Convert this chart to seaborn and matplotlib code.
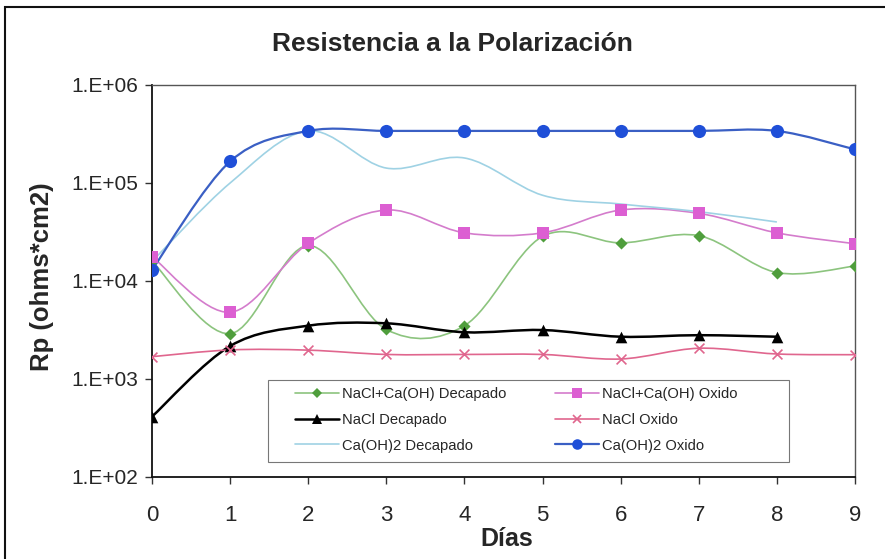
import numpy as np
import matplotlib
matplotlib.use("Agg")
import matplotlib.pyplot as plt
import seaborn as sns
from matplotlib.path import Path
from matplotlib.patches import PathPatch, Rectangle
from matplotlib.lines import Line2D

# values (Rp in ohms*cm2, per day)
dias = [0, 1, 2, 3, 4, 5, 6, 7, 8, 9]
nacl_caoh_dec = [1.6e4, 2.9e3, 2.3e4, 3.2e3, 3.5e3, 2.85e4, 2.45e4, 2.9e4, 1.22e4, 1.42e4]
nacl_caoh_ox = [1.77e4, 4.8e3, 2.42e4, 5.3e4, 3.1e4, 3.1e4, 5.3e4, 4.9e4, 3.1e4, 2.4e4]
nacl_dec = [413, 2.17e3, 3.5e3, 3.7e3, 3.0e3, 3.16e3, 2.7e3, 2.8e3, 2.7e3]
nacl_ox = [1.69e3, 1.98e3, 1.97e3, 1.78e3, 1.78e3, 1.78e3, 1.6e3, 2.06e3, 1.8e3, 1.77e3]
caoh_dec = [1.58e4, 1.0e5, 3.4e5, 1.42e5, 1.8e5, 7.5e4, 6.1e4, 5.1e4, 4.0e4]
caoh_ox = [1.3e4, 1.66e5, 3.4e5, 3.4e5, 3.4e5, 3.4e5, 3.4e5, 3.4e5, 3.4e5, 2.2e5]

sns.set_style("white")
plt.rcParams["font.family"] = ["Liberation Sans", "DejaVu Sans"]


def smooth_path(xs, ys):
    """Excel-style smoothed line: Catmull-Rom bezier in (x, log y) space."""
    p = np.column_stack([np.asarray(xs, float), np.log10(ys)])
    n = len(p)
    verts = [p[0]]
    codes = [Path.MOVETO]
    for i in range(n - 1):
        p0 = p[max(i - 1, 0)]
        p3 = p[min(i + 2, n - 1)]
        c1 = p[i] + (p[i + 1] - p0) / 6.0
        c2 = p[i + 1] - (p3 - p[i]) / 6.0
        verts += [c1, c2, p[i + 1]]
        codes += [Path.CURVE4] * 3
    verts = np.array(verts)
    verts[:, 1] = 10 ** verts[:, 1]
    return Path(verts, codes)


series = [
    ("NaCl+Ca(OH) Decapado", nacl_caoh_dec, "#8cc47e", "#4f9e3c", "D", 38, 1.2),
    ("NaCl+Ca(OH) Oxido", nacl_caoh_ox, "#d47ccc", "#dc5fd2", "s", 80, 1.2),
    ("NaCl Decapado", nacl_dec, "#000000", "#000000", "^", 70, 1.8),
    ("NaCl Oxido", nacl_ox, "#e0668e", "#e0668e", "x", 50, 1.2),
    ("Ca(OH)2 Decapado", caoh_dec, "#9fd2e4", None, None, 0, 1.2),
    ("Ca(OH)2 Oxido", caoh_ox, "#3a5fc4", "#1f4fd8", "o", 90, 1.6),
]

fig = plt.figure(figsize=(8.85, 5.59), dpi=100)
ax = fig.add_axes([152 / 885, 1 - 477 / 559, 703 / 885, 392 / 559])
ax.set_yscale("log")
ax.set_xlim(0, 9)
ax.set_ylim(1e2, 1e6)

handles = {}
for k, (name, vals, lc, mc, mk, ms, lw) in enumerate(series):
    x = dias[:len(vals)]
    ax.add_patch(PathPatch(smooth_path(x, vals), transform=ax.transData,
                           fill=False, edgecolor=lc, linewidth=lw, zorder=2 + k))
    if mk is not None:
        if mk == "x":
            sns.scatterplot(x=x, y=vals, ax=ax, marker="x", color=mc, s=ms,
                            linewidth=1.2, zorder=10 + k)
        else:
            sns.scatterplot(x=x, y=vals, ax=ax, marker=mk, color=mc, s=ms,
                            linewidth=0, zorder=10 + k)
    handles[name] = Line2D([], [], color=lc, linewidth=lw, marker=mk,
                           markerfacecolor=mc, markeredgecolor=mc,
                           markersize=np.sqrt(ms) * 0.8 if ms else 0,
                           markeredgewidth=1.2 if mk == "x" else 0)

ax.set_xticks(dias)
ax.set_xticklabels([str(d) for d in dias], fontsize=16)
ax.set_yticks([1e2, 1e3, 1e4, 1e5, 1e6])
ax.set_yticklabels(["1.E+02", "1.E+03", "1.E+04", "1.E+05", "1.E+06"], fontsize=15)
ax.yaxis.set_minor_locator(matplotlib.ticker.NullLocator())
ax.tick_params(axis="both", direction="out", length=5, width=1, color="#333333",
               left=True, bottom=True)
ax.tick_params(axis="x", pad=15)
ax.tick_params(axis="y", pad=5)

for side in ["left", "bottom"]:
    ax.spines[side].set_color("#111111")
    ax.spines[side].set_linewidth(1.3)
for side in ["top", "right"]:
    ax.spines[side].set_color("#555555")
    ax.spines[side].set_linewidth(1.0)

ax.set_xlabel("Días", fontsize=18, fontweight="bold")
ax.xaxis.set_label_coords(0.505, -0.128)
ax.set_ylabel("Rp (ohms*cm2)", fontsize=18.5, fontweight="bold")
ax.yaxis.set_label_coords(-0.139, 0.51)
fig.text(452 / 885, 1 - 44 / 559, "Resistencia a la Polarización", ha="center", va="center",
         fontsize=19, fontweight="bold")

# legend: entries without frame, box drawn where the reference has it
order = ["NaCl+Ca(OH) Decapado", "NaCl Decapado", "Ca(OH)2 Decapado",
         "NaCl+Ca(OH) Oxido", "NaCl Oxido", "Ca(OH)2 Oxido"]
leg = ax.legend([handles[o] for o in order], order, ncol=2, fontsize=10.6,
                loc="upper left", bbox_to_anchor=((295 - 152) / 703, (477 - 387) / 392),
                frameon=False, handlelength=3.0, columnspacing=3.3, labelspacing=0.8,
                borderpad=0, borderaxespad=0, handletextpad=0.2)
ax.add_patch(Rectangle(((268 - 152) / 703, (477 - 462) / 392), (789 - 268) / 703,
                       (462 - 380) / 392, transform=ax.transAxes, fill=True,
                       facecolor="white", edgecolor="#777777", linewidth=0.8, zorder=30))
leg.set_zorder(31)

# outer chart border (image is cropped at right and bottom)
fig.patches.append(Rectangle((5 / 885, -0.05), 1.1, 1 - 7 / 559 + 0.05,
                             transform=fig.transFigure, fill=False,
                             edgecolor="#111111", linewidth=1.5))

fig.savefig("out.png", dpi=100)
